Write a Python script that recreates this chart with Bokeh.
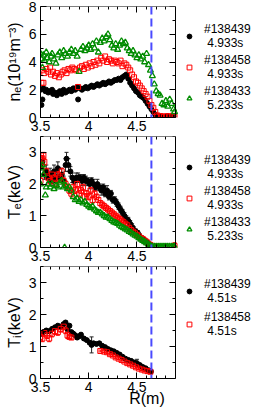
from bokeh.plotting import figure
from bokeh.models import (Range1d, LinearAxis, FixedTicker, Legend, LegendItem, Whisker,
                          TeeHead, ColumnDataSource, NumeralTickFormatter, CustomJSTickFormatter, Span)
from bokeh.layouts import column
from bokeh.embed import file_html
from bokeh.resources import INLINE

# ---------------- data ----------------
x_ticks = [3.5, 4.0, 4.5]
x_minor = [3.5, 3.6, 3.7, 3.8, 3.9, 4.0, 4.1, 4.2, 4.3, 4.4, 4.5, 4.6, 4.7, 4.8, 4.9]
R_min, R_max = 3.5, 4.9
R_sep = [4.65]

# panel 1: n_e
ne_b_R = [3.50, 3.51, 3.52, 3.53, 3.55, 3.56, 3.58, 3.60, 3.62, 3.63,
          3.65, 3.67, 3.69, 3.70, 3.72, 3.74, 3.76, 3.78, 3.80, 3.82,
          3.84, 3.86, 3.88, 3.89, 3.91, 3.93, 3.95, 3.97, 3.99, 4.01,
          4.03, 4.05, 4.07, 4.09, 4.11, 4.13, 4.15, 4.17, 4.19, 4.21,
          4.23, 4.25, 4.27, 4.29, 4.31, 4.33, 4.35, 4.37, 4.39, 4.41,
          4.43, 4.45, 4.47, 4.49, 4.51, 4.53, 4.55, 4.57, 4.59, 4.61,
          4.63, 4.65, 4.67, 4.69, 4.71, 4.73, 4.76, 4.79, 4.82, 4.85, 4.88]
ne_b = [2.0, 0.9, 1.3, 2.1, 1.9, 2.0, 1.8, 1.9, 2.0, 1.7,
        1.8, 1.6, 1.8, 1.9, 1.7, 2.0, 1.8, 1.9, 2.0, 1.9,
        2.1, 2.0, 2.2, 1.3, 2.1, 2.0, 2.1, 2.2, 2.1, 2.2,
        2.3, 2.2, 2.3, 2.4, 2.3, 2.4, 2.5, 2.4, 2.5, 2.6,
        2.5, 2.6, 2.7, 2.7, 2.8, 2.7, 2.9, 3.0, 3.1, 2.8,
        2.5, 2.3, 2.1, 1.9, 1.8, 1.6, 1.5, 1.4, 1.2, 1.0,
        0.8, 0.6, 0.4, 0.2, 0.1, 0.05, 0.08, 0.05, 0.1, 0.05, 0.08]

ne_r_R = [3.51, 3.52, 3.53, 3.54, 3.56, 3.58, 3.60, 3.61, 3.63, 3.65,
          3.67, 3.69, 3.71, 3.73, 3.75, 3.77, 3.79, 3.81, 3.83, 3.85,
          3.87, 3.89, 3.91, 3.93, 3.95, 3.97, 3.99, 4.01, 4.03, 4.05,
          4.07, 4.09, 4.11, 4.13, 4.15, 4.17, 4.19, 4.21, 4.23, 4.25,
          4.27, 4.29, 4.31, 4.33, 4.35, 4.37, 4.39, 4.41, 4.43, 4.45,
          4.47, 4.49, 4.51, 4.53, 4.55, 4.57, 4.59, 4.61, 4.63, 4.65,
          4.67, 4.69, 4.71, 4.73, 4.75, 4.78, 4.81, 4.84, 4.87, 4.89]
ne_r = [2.5, 3.4, 2.5, 3.2, 3.5, 3.3, 3.6, 3.1, 3.3, 3.0,
        3.2, 2.9, 3.1, 3.3, 3.4, 3.2, 3.5, 3.4, 3.6, 3.5,
        3.4, 2.2, 3.6, 3.7, 3.5, 3.8, 3.6, 3.9, 3.7, 4.0,
        3.8, 4.1, 3.9, 4.3, 4.1, 4.4, 4.0, 4.2, 4.1, 3.9,
        4.1, 4.0, 3.9, 4.1, 3.7, 3.9, 3.8, 3.6, 3.4, 3.1,
        2.9, 2.6, 2.5, 2.3, 2.1, 1.9, 1.7, 1.5, 1.2, 0.9,
        0.7, 0.4, 0.15, 0.1, 0.1, 0.05, 0.1, 0.08, 0.12, 0.05]

ne_g_R = [3.50, 3.51, 3.52, 3.53, 3.54, 3.56, 3.57, 3.59, 3.61, 3.62,
          3.64, 3.66, 3.68, 3.70, 3.72, 3.74, 3.76, 3.78, 3.80, 3.82,
          3.84, 3.86, 3.88, 3.90, 3.92, 3.94, 3.96, 3.98, 4.00, 4.02,
          4.04, 4.06, 4.08, 4.10, 4.12, 4.14, 4.16, 4.18, 4.20, 4.22,
          4.24, 4.26, 4.28, 4.30, 4.32, 4.34, 4.36, 4.38, 4.40, 4.42,
          4.44, 4.46, 4.48, 4.50, 4.52, 4.54, 4.56, 4.58, 4.60, 4.62,
          4.64, 4.66, 4.68, 4.70, 4.72, 4.74, 4.76, 4.78, 4.80, 4.82,
          4.84, 4.86, 4.88, 4.89]
ne_g = [4.6, 4.2, 3.6, 4.5, 4.1, 4.7, 4.3, 4.0, 4.4, 4.6,
        4.2, 3.9, 4.5, 4.7, 4.3, 4.8, 4.6, 4.4, 4.7, 4.9,
        4.6, 4.8, 4.4, 3.3, 4.9, 5.1, 4.8, 5.0, 5.2, 4.9,
        5.3, 5.0, 5.5, 4.7, 5.4, 5.7, 5.5, 5.8, 6.0, 5.6,
        5.2, 5.0, 5.3, 4.9, 5.2, 5.5, 5.3, 5.4, 5.0, 4.8,
        4.6, 4.8, 4.5, 4.3, 4.5, 4.2, 4.4, 4.0, 4.6, 3.8,
        3.4, 3.0, 2.4, 1.9, 1.7, 1.6, 1.0, 0.9, 1.2, 0.8,
        1.3, 1.0, 0.6, 0.4]

# panel 2: T_e
te_b_R = [3.50, 3.52, 3.54, 3.56, 3.58, 3.60, 3.62, 3.64, 3.66, 3.68,
          3.70, 3.72, 3.74, 3.76, 3.77, 3.79, 3.81, 3.83, 3.85, 3.87,
          3.89, 3.91, 3.93, 3.95, 3.97, 3.99, 4.01, 4.03, 4.05, 4.07,
          4.09, 4.11, 4.13, 4.15, 4.17, 4.19, 4.21, 4.23, 4.25, 4.27,
          4.29, 4.31, 4.33, 4.35, 4.37, 4.39, 4.41, 4.43, 4.45, 4.47,
          4.49, 4.51, 4.53, 4.55, 4.57, 4.59, 4.61, 4.63]
te_b = [2.6, 2.7, 2.3, 2.4, 2.2, 2.3, 2.1, 2.4, 2.2, 2.5,
        2.2, 2.3, 2.1, 2.6, 2.8, 2.6, 2.4, 2.2, 2.1, 2.2,
        2.2, 2.2, 2.1, 2.2, 2.1, 2.1, 2.0, 2.1, 2.0, 1.9,
        2.0, 1.9, 1.8, 1.9, 1.7, 1.8, 1.6, 1.7, 1.5, 1.5,
        1.4, 1.3, 1.2, 1.1, 1.0, 0.9, 0.85, 0.75, 0.65, 0.55,
        0.5, 0.45, 0.35, 0.3, 0.25, 0.2, 0.15, 0.1]
te_b_err = [0.15, 0.15, 0.15, 0.2, 0.15, 0.2, 0.15, 0.2, 0.15, 0.2,
            0.15, 0.2, 0.15, 0.2, 0.2, 0.2, 0.15, 0.15, 0.1, 0.15,
            0.15, 0.1, 0.15, 0.1, 0.15, 0.1, 0.15, 0.1, 0.15, 0.1,
            0.15, 0.1, 0.15, 0.1, 0.1, 0.15, 0.1, 0.1, 0.1, 0.1,
            0.1, 0.1, 0.1, 0.1, 0.1, 0.1, 0.1, 0.1, 0.1, 0.1,
            0.08, 0.08, 0.08, 0.06, 0.06, 0.06, 0.05, 0.05]

te_r_R = [3.50, 3.51, 3.52, 3.53, 3.54, 3.56, 3.58, 3.60, 3.62, 3.64,
          3.66, 3.68, 3.70, 3.72, 3.74, 3.76, 3.78, 3.80, 3.82, 3.84,
          3.86, 3.88, 3.90, 3.92, 3.94, 3.96, 3.98, 4.00, 4.02, 4.04,
          4.06, 4.08, 4.10, 4.12, 4.14, 4.16, 4.18, 4.20, 4.22, 4.24,
          4.26, 4.28, 4.30, 4.32, 4.34, 4.36, 4.38, 4.40, 4.42, 4.44,
          4.46, 4.48, 4.50, 4.52, 4.54, 4.56, 4.58, 4.60, 4.62, 4.64,
          4.70, 4.80, 4.89]
te_r = [2.1, 2.6, 2.8, 2.9, 2.7, 2.4, 2.2, 2.1, 2.3, 2.2,
        2.0, 2.3, 2.2, 2.4, 2.1, 2.0, 1.9, 1.8, 1.7, 1.9,
        1.8, 2.0, 1.7, 1.8, 1.9, 1.6, 1.7, 1.6, 1.8, 1.5,
        1.7, 1.6, 1.5, 1.4, 1.35, 1.3, 1.25, 1.2, 1.15, 1.1,
        1.05, 1.0, 0.95, 0.9, 0.85, 0.8, 0.75, 0.7, 0.62, 0.55,
        0.5, 0.45, 0.4, 0.35, 0.3, 0.27, 0.22, 0.18, 0.12, 0.08,
        0.03, 0.03, 0.05]
te_r_err = [0.1, 0.1, 0.1, 0.1, 0.1, 0.1, 0.1, 0.1, 0.1, 0.1,
            0.1, 0.1, 0.1, 0.1, 0.1, 0.1, 0.1, 0.1, 0.1, 0.1,
            0.1, 0.1, 0.1, 0.1, 0.1, 0.1, 0.1, 0.1, 0.1, 0.1,
            0.08, 0.08, 0.08, 0.08, 0.08, 0.08, 0.08, 0.08, 0.08, 0.08,
            0.06, 0.06, 0.06, 0.06, 0.06, 0.06, 0.06, 0.06, 0.06, 0.06,
            0.05, 0.05, 0.05, 0.05, 0.05, 0.05, 0.05, 0.05, 0.05, 0.05,
            0.03, 0.03, 0.1]

te_g_R = [3.50, 3.51, 3.52, 3.53, 3.55, 3.56, 3.58, 3.60, 3.62, 3.64,
          3.66, 3.68, 3.70, 3.72, 3.74, 3.75, 3.76, 3.78, 3.80, 3.82,
          3.84, 3.86, 3.88, 3.90, 3.92, 3.94, 3.96, 3.98, 4.00, 4.02,
          4.04, 4.06, 4.08, 4.10, 4.12, 4.14, 4.16, 4.18, 4.20, 4.22,
          4.24, 4.26, 4.28, 4.30, 4.32, 4.34, 4.36, 4.38, 4.40, 4.42,
          4.44, 4.46, 4.48, 4.50, 4.52, 4.54, 4.56, 4.58, 4.60, 4.62,
          4.64, 4.66, 4.68, 4.70, 4.72, 4.74, 4.76, 4.78, 4.80, 4.82,
          4.84, 4.86, 4.88, 4.89]
te_g = [2.0, 2.5, 2.6, 2.3, 1.65, 1.9, 2.0, 1.9, 2.0, 1.85,
        1.95, 1.9, 2.05, 2.1, 1.9, 0.0, 1.95, 1.85, 1.9, 1.8,
        1.6, 1.5, 1.55, 1.45, 1.5, 1.4, 1.45, 1.35, 1.3, 1.25,
        1.3, 1.2, 1.15, 1.1, 1.1, 1.05, 1.0, 0.95, 0.95, 0.9,
        0.85, 0.8, 0.78, 0.75, 0.7, 0.65, 0.62, 0.58, 0.55, 0.5,
        0.47, 0.42, 0.38, 0.35, 0.3, 0.26, 0.22, 0.18, 0.14, 0.1,
        0.06, 0.03, 0.03, 0.03, 0.03, 0.03, 0.03, 0.03, 0.03, 0.03,
        0.03, 0.03, 0.03, 0.03]

# panel 3: T_i
ti_b_R = [3.50, 3.53, 3.56, 3.59, 3.62, 3.65, 3.68, 3.71, 3.74, 3.76,
          3.78, 3.80, 3.82, 3.84, 3.86, 3.88, 3.90, 3.92, 3.95, 3.98,
          4.01, 4.03, 4.05, 4.08, 4.11, 4.14, 4.17, 4.20, 4.23, 4.26,
          4.29, 4.32, 4.35, 4.38, 4.41, 4.44, 4.47, 4.50, 4.53, 4.56,
          4.59, 4.62, 4.645]
ti_b = [1.40, 1.45, 1.50, 1.48, 1.55, 1.60, 1.65, 1.62, 1.70, 1.75,
        1.55, 1.65, 1.45, 1.40, 1.35, 1.28, 1.32, 1.37, 1.25, 1.20,
        1.12, 1.05, 1.10, 1.08, 1.10, 1.02, 0.98, 0.92, 0.88, 0.85,
        0.80, 0.75, 0.68, 0.62, 0.58, 0.55, 0.50, 0.48, 0.42, 0.36,
        0.32, 0.26, 0.22]
ti_b_err = [0.08, 0.05, 0.05, 0.05, 0.05, 0.05, 0.05, 0.05, 0.05, 0.05,
            0.05, 0.05, 0.05, 0.05, 0.05, 0.05, 0.05, 0.05, 0.05, 0.05,
            0.05, 0.25, 0.05, 0.05, 0.05, 0.05, 0.05, 0.05, 0.05, 0.05,
            0.05, 0.05, 0.05, 0.05, 0.05, 0.05, 0.05, 0.12, 0.05, 0.05,
            0.05, 0.05, 0.05]

ti_r_R = [3.50, 3.52, 3.54, 3.57, 3.59, 3.62, 3.65, 3.68, 3.71, 3.74,
          3.76, 3.78, 3.80, 3.82,
          4.12, 4.16, 4.19, 4.22, 4.25, 4.28, 4.31, 4.34, 4.37, 4.40,
          4.43, 4.46, 4.49, 4.52, 4.55, 4.58, 4.61, 4.64]
ti_r = [1.30, 1.25, 1.42, 1.35, 1.25, 1.40, 1.48, 1.45, 1.55, 1.62,
        1.50, 1.35, 1.30, 1.28,
        0.86, 0.84, 0.82, 0.76, 0.72, 0.66, 0.62, 0.58, 0.53, 0.48,
        0.44, 0.40, 0.35, 0.31, 0.28, 0.25, 0.23, 0.21]
ti_r_err = [0.1, 0.1, 0.1, 0.1, 0.1, 0.1, 0.1, 0.1, 0.1, 0.1,
            0.1, 0.1, 0.05, 0.05,
            0.03, 0.03, 0.03, 0.03, 0.03, 0.03, 0.03, 0.03, 0.03, 0.03,
            0.03, 0.03, 0.03, 0.03, 0.03, 0.03, 0.03, 0.03]

labels_top = ["#138439\n 4.933s", "#138458\n 4.933s", "#138433\n 5.233s"]
labels_bot = ["#138439\n 4.51s", "#138458\n 4.51s"]
x_title = "R(m)"

# ---------------- style ----------------
FONT = "Liberation Sans"
BLACK, RED, GREEN, BLUE = "black", "#ff0000", "#008c00", "#4a4aff"
W = 253
BL = 40                 # left border (px)
BOX_W = 135             # width of the drawn box (px)
DASH = "8 4"
# frame spans the whole width right of the left border; the box is drawn with bounded axes
X_END = R_min + (R_max - R_min) * (W - BL) / BOX_W


def panel(height, top, bottom, ymax, ymajor, yminor, ylabel, xlabel=None, xlabel_standoff=0):
    p = figure(width=W, height=height, x_range=Range1d(R_min, X_END), y_range=Range1d(0, ymax),
               output_backend="svg", toolbar_location=None,
               x_axis_type=None, y_axis_type=None,
               min_border_left=BL, min_border_right=0,
               min_border_top=top, min_border_bottom=bottom)
    p.outline_line_color = None
    p.background_fill_color = "white"
    p.border_fill_color = "white"
    xt = FixedTicker(ticks=x_ticks, minor_ticks=x_minor)
    yt = FixedTicker(ticks=ymajor, minor_ticks=yminor)
    blank = CustomJSTickFormatter(code="return ''")

    def style(ax):
        ax.major_tick_in = 6
        ax.major_tick_out = 0
        ax.minor_tick_in = 3
        ax.minor_tick_out = 0
        ax.axis_line_color = "black"
        ax.major_tick_line_color = "black"
        ax.minor_tick_line_color = "black"
        ax.major_label_text_font = FONT
        ax.major_label_text_font_size = "14px"
        ax.major_label_text_color = "black"
        ax.axis_label_text_font = FONT
        ax.axis_label_text_font_size = "16px"
        ax.axis_label_text_font_style = "normal"
        ax.axis_label_text_color = "black"

    xa = LinearAxis(ticker=xt, formatter=NumeralTickFormatter(format="0.[0]"), bounds=(R_min, R_max),
                    major_label_standoff=3, axis_label=xlabel, axis_label_standoff=xlabel_standoff)
    style(xa)
    p.add_layout(xa, "below")
    xa2 = LinearAxis(ticker=xt, formatter=blank, fixed_location=ymax, bounds=(R_min, R_max),
                     major_label_standoff=0)
    style(xa2)
    p.add_layout(xa2, "above")
    ya = LinearAxis(ticker=yt, formatter=NumeralTickFormatter(format="0"),
                    major_label_standoff=4, axis_label=ylabel, axis_label_standoff=3)
    style(ya)
    p.add_layout(ya, "left")
    ya2 = LinearAxis(ticker=yt, formatter=blank, fixed_location=R_max, major_label_standoff=0)
    style(ya2)
    p.add_layout(ya2, "right")
    p.add_layout(Span(location=R_sep[0], dimension="height", line_color=BLUE,
                      line_width=2, line_dash=DASH))
    return p


def gap_line(p, length):
    # continue the separatrix line through the gap below the box
    ax = LinearAxis(ticker=FixedTicker(ticks=R_sep, minor_ticks=[]), fixed_location=0,
                    formatter=CustomJSTickFormatter(code="return ''"),
                    major_tick_in=0, major_tick_out=length, minor_tick_in=0, minor_tick_out=0,
                    axis_line_color=None, major_tick_line_color=BLUE, major_tick_line_width=2,
                    major_tick_line_dash=DASH, major_label_standoff=0)
    p.add_layout(ax, "below")


def errbars(p, R, v, e, color):
    src = ColumnDataSource(dict(x=R, lo=[a - b for a, b in zip(v, e)], hi=[a + b for a, b in zip(v, e)]))
    w = Whisker(source=src, base="x", lower="lo", upper="hi", dimension="height",
                lower_head=TeeHead(size=4, line_color=color, line_width=1),
                upper_head=TeeHead(size=4, line_color=color, line_width=1),
                line_color=color, line_width=1, level="underlay")
    p.add_layout(w)


def legend(p, items, vy, spacing, line_h):
    lg = Legend(items=items, location=(143, vy), padding=0, margin=0, spacing=spacing,
                glyph_width=12, glyph_height=20, label_standoff=9,
                label_text_font=FONT, label_text_font_size="12px",
                label_text_line_height=line_h, label_text_color="black",
                border_line_color=None, background_fill_alpha=0)
    p.add_layout(lg)


# ---- panel 1 ----
p1 = panel(136, 6, 19, 8, [0, 2, 4, 6, 8], [1, 3, 5, 7], "nₑ(10¹⁹m⁻³)")
b1 = p1.scatter(ne_b_R, ne_b, marker="circle", size=5, color=BLACK)
r1 = p1.scatter(ne_r_R, ne_r, marker="square", size=5, fill_color=None, line_color=RED, line_width=1)
g1 = p1.scatter(ne_g_R, ne_g, marker="triangle", size=6, fill_color=None, line_color=GREEN, line_width=1.3)
gap_line(p1, 19)
legend(p1, [LegendItem(label=labels_top[0], renderers=[b1]),
            LegendItem(label=labels_top[1], renderers=[r1]),
            LegendItem(label=labels_top[2], renderers=[g1])], 5, 3, 1.1)

# ---- panel 2 ----
p2 = panel(130, 0, 19, 3.5, [0, 1, 2, 3], [0.5, 1.5, 2.5, 3.5], "Tₑ(keV)")
errbars(p2, te_b_R, te_b, te_b_err, "#222222")
errbars(p2, te_r_R, te_r, te_r_err, RED)
b2 = p2.scatter(te_b_R, te_b, marker="circle", size=5, color=BLACK)
r2 = p2.scatter(te_r_R, te_r, marker="square", size=5, fill_color=None, line_color=RED, line_width=1)
g2 = p2.scatter(te_g_R, te_g, marker="triangle", size=6, fill_color=None, line_color=GREEN, line_width=1.3)
gap_line(p2, 19)
legend(p2, [LegendItem(label=labels_top[0], renderers=[b2]),
            LegendItem(label=labels_top[1], renderers=[r2]),
            LegendItem(label=labels_top[2], renderers=[g2])], 4, 3, 1.1)

# ---- panel 3 ----
p3 = panel(144, 0, 32, 3.5, [0, 1, 2, 3], [0.5, 1.5, 2.5, 3.5], "Tᵢ(keV)",
           xlabel=x_title, xlabel_standoff=-5)
errbars(p3, ti_b_R, ti_b, ti_b_err, "#222222")
errbars(p3, ti_r_R, ti_r, ti_r_err, RED)
b3 = p3.scatter(ti_b_R, ti_b, marker="circle", size=5, color=BLACK)
r3 = p3.scatter(ti_r_R, ti_r, marker="square", size=5, fill_color=None, line_color=RED, line_width=1)
legend(p3, [LegendItem(label=labels_bot[0], renderers=[b3]),
            LegendItem(label=labels_bot[1], renderers=[r3])], 40, 5, 0.92)

layout = column(p1, p2, p3, spacing=0)
open("out.html", "w").write(file_html(layout, INLINE))
